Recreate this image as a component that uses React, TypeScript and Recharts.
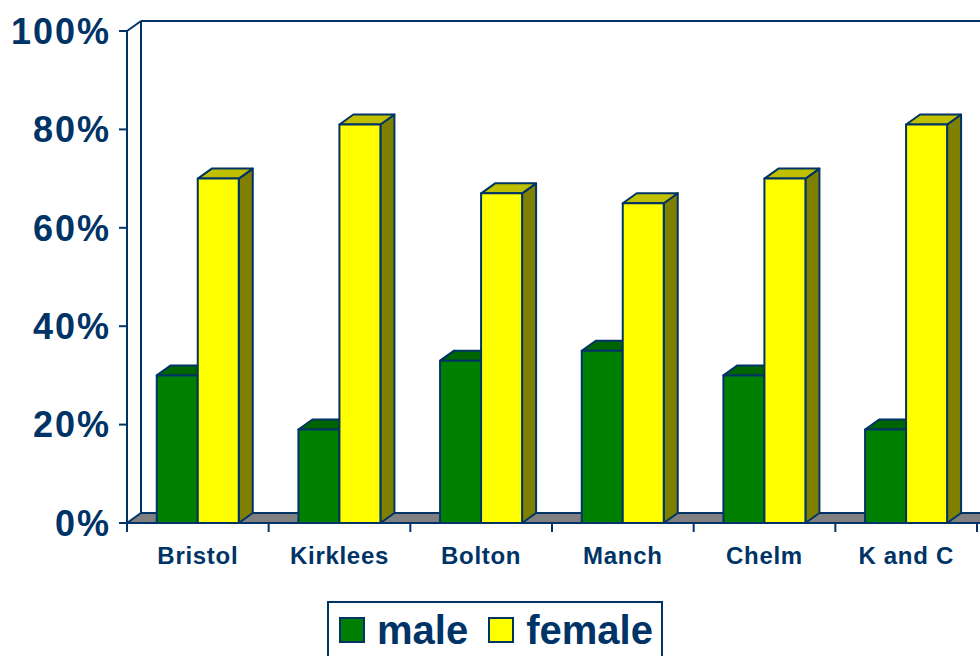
import { BarChart, Bar, XAxis, YAxis, ReferenceArea } from 'recharts';

const categories = ['Bristol', 'Kirklees', 'Bolton', 'Manch', 'Chelm', 'K and C'];
const maleValues = [30, 19, 33, 35, 30, 19];
const femaleValues = [70, 81, 67, 65, 70, 81];
const yTicks = [0, 20, 40, 60, 80, 100];

const NAVY = '#003366';
const FONT = 'Arial, "Liberation Sans", sans-serif';
const WIDTH = 980;
const HEIGHT = 656;
const MARGIN = { top: 31, right: 3, left: 7, bottom: 0 };
const Y_AXIS_WIDTH = 120;
// 3D depth offset for bars, floor and walls
const DX = 14;
const DY = -10;

const PLOT_WIDTH = WIDTH - MARGIN.left - MARGIN.right - Y_AXIS_WIDTH;
const BAND = PLOT_WIDTH / categories.length;

const data = categories.map((name, i) => ({
  name,
  male: maleValues[i],
  female: femaleValues[i],
}));

function makeBarShape(front: string, top: string, side: string) {
  return (props: any) => {
    const { x, y, width: w, height: h } = props;
    if (w == null || h == null) return <g />;
    return (
      <g stroke={NAVY} strokeWidth={2} strokeLinejoin="round">
        <polygon
          points={`${x + w},${y} ${x + w + DX},${y + DY} ${x + w + DX},${y + h + DY} ${x + w},${y + h}`}
          fill={side}
        />
        <polygon
          points={`${x},${y} ${x + DX},${y + DY} ${x + w + DX},${y + DY} ${x + w},${y}`}
          fill={top}
        />
        <rect x={x} y={y} width={w} height={h} fill={front} />
      </g>
    );
  };
}

// floor, back wall and side wall edge drawn from the full 0–100% area
function Frame(props: any) {
  const { x, y, width: w, height: h } = props;
  const bottom = y + h;
  return (
    <g stroke={NAVY} strokeWidth={2} fill="none">
      <polygon
        points={`${x},${bottom} ${x + DX},${bottom + DY} ${x + w + DX + 20},${bottom + DY} ${x + w + 20},${bottom}`}
        fill="#808080"
      />
      <line x1={x} y1={y} x2={x + DX} y2={y + DY} />
      <line x1={x + DX} y1={y + DY} x2={x + DX} y2={bottom + DY} />
      <line x1={x + DX} y1={y + DY} x2={x + w + DX + 20} y2={y + DY} />
    </g>
  );
}

function CategoryTick(props: any) {
  const { x, y, payload, index } = props;
  const left = x - BAND / 2;
  return (
    <g>
      <line x1={left} y1={y} x2={left} y2={y + 9} stroke={NAVY} strokeWidth={2} />
      {index === categories.length - 1 && (
        <line x1={x + BAND / 2} y1={y} x2={x + BAND / 2} y2={y + 9} stroke={NAVY} strokeWidth={2} />
      )}
      <text
        x={x}
        y={y + 41}
        textAnchor="middle"
        fill={NAVY}
        fontFamily={FONT}
        fontWeight="bold"
        fontSize={24}
        letterSpacing={0.7}
      >
        {payload.value}
      </text>
    </g>
  );
}

function Swatch({ color }: { color: string }) {
  return (
    <span
      style={{
        display: 'inline-block',
        width: 22,
        height: 22,
        background: color,
        border: `2px solid ${NAVY}`,
        marginRight: 12,
      }}
    />
  );
}

export default function App() {
  return (
    <div
      style={{
        position: 'absolute',
        left: 0,
        top: 0,
        width: WIDTH,
        height: HEIGHT,
        overflow: 'hidden',
        background: '#fff',
      }}
    >
      <BarChart
        width={WIDTH}
        height={HEIGHT}
        data={data}
        margin={MARGIN}
        barCategoryGap="21%"
        barGap={0}
      >
        <ReferenceArea y1={0} y2={100} shape={(p: any) => <Frame {...p} />} ifOverflow="visible" />
        <XAxis
          dataKey="name"
          axisLine={false}
          tickLine={false}
          tickSize={0}
          tickMargin={0}
          height={133}
          interval={0}
          tick={<CategoryTick />}
        />
        <YAxis
          domain={[0, 100]}
          ticks={yTicks}
          width={Y_AXIS_WIDTH}
          axisLine={{ stroke: NAVY, strokeWidth: 2 }}
          tickLine={{ stroke: NAVY, strokeWidth: 2 }}
          tickSize={8}
          tickMargin={8}
          tickFormatter={(v: number) => `${v}%`}
          tick={{
            fill: NAVY,
            fontFamily: FONT,
            fontWeight: 'bold',
            fontSize: 36,
            letterSpacing: 2,
          }}
        />
        <Bar
          dataKey="male"
          name="male"
          fill="#008000"
          shape={makeBarShape('#008000', '#006400', '#005000')}
          isAnimationActive={false}
        />
        <Bar
          dataKey="female"
          name="female"
          fill="#FFFF00"
          shape={makeBarShape('#FFFF00', '#C0C000', '#808000')}
          isAnimationActive={false}
        />
      </BarChart>
      <div
        style={{
          position: 'absolute',
          left: 327,
          top: 601,
          width: 336,
          height: 70,
          border: `2px solid ${NAVY}`,
          display: 'flex',
          alignItems: 'center',
          paddingLeft: 10,
          paddingBottom: 12,
          boxSizing: 'border-box',
          fontFamily: FONT,
          fontWeight: 'bold',
          fontSize: 40,
          color: NAVY,
        }}
      >
        <Swatch color="#008000" />
        <span style={{ marginRight: 20 }}>male</span>
        <Swatch color="#FFFF00" />
        <span>female</span>
      </div>
    </div>
  );
}
